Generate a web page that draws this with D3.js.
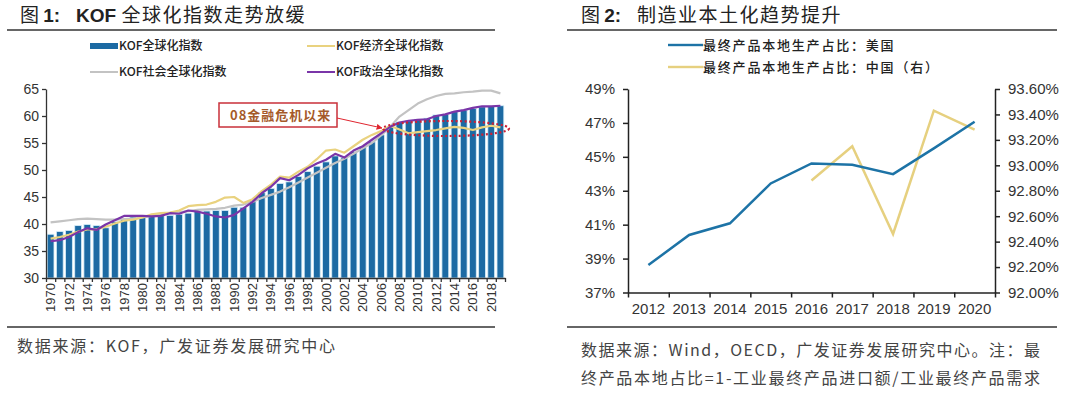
<!DOCTYPE html>
<html>
<head>
<meta charset="utf-8">
<script src="https://cdn.jsdelivr.net/npm/d3@7"></script>
<style>
  body { margin: 0; background: #fff; }
  svg text { font-family: "Liberation Sans", Arial, "Noto Sans CJK SC", sans-serif; }
  .cjk { font-family: "Noto Sans CJK SC", sans-serif; }
</style>
</head>
<body>
<svg width="1080" height="395"></svg>
<script>
// ---------- data: figure 1 ----------
var years1 = d3.range(1970, 2020);
var kofTotal = [38.1, 38.6, 38.8, 39.7, 39.9, 39.7, 39.3, 40.4, 41.0, 41.3,
                41.4, 41.5, 41.6, 41.6, 41.8, 42.0, 42.3, 42.4, 42.5, 42.5,
                43.1, 43.1, 44.3, 45.8, 46.6, 47.5, 47.8, 48.8, 49.7, 50.7,
                51.5, 52.6, 52.3, 53.4, 54.3, 55.2, 56.5, 58.0, 58.9, 59.1,
                59.4, 59.6, 60.2, 60.3, 60.8, 61.1, 61.4, 61.7, 61.8, 61.9];
var kofEcon = [37.3, 37.6, 38.0, 38.6, 39.0, 39.0, 39.5, 40.1, 40.6, 40.8,
               41.2, 41.8, 42.0, 42.1, 42.5, 43.3, 43.5, 43.6, 44.1, 44.9,
               45.0, 43.9, 44.6, 46.1, 47.3, 48.8, 48.6, 49.7, 50.6, 52.0,
               53.6, 53.8, 53.2, 54.4, 55.6, 56.5, 57.2, 58.2, 57.5, 56.8,
               57.0, 57.2, 57.4, 57.7, 58.0, 57.8, 57.4, 57.9, 58.2, 57.9];
var kofSocial = [40.3, 40.5, 40.7, 40.9, 41.0, 40.9, 40.8, 40.8, 40.9, 41.0,
                 41.2, 41.5, 41.8, 42.0, 42.2, 42.4, 42.6, 42.7, 42.8, 43.0,
                 43.4, 43.6, 44.1, 44.8, 45.4, 46.0, 46.8, 47.7, 48.6, 49.5,
                 50.4, 51.3, 52.1, 53.0, 54.0, 55.0, 56.4, 58.0, 59.9, 61.1,
                 62.3, 63.1, 63.7, 64.1, 64.2, 64.4, 64.5, 64.7, 64.7, 64.2];
var kofPolit = [36.8, 37.0, 37.6, 38.5, 39.2, 38.9, 39.9, 40.7, 41.5, 41.5,
                41.5, 41.4, 41.5, 42.0, 41.9, 42.5, 42.3, 41.9, 41.4, 41.2,
                41.7, 42.9, 44.1, 45.7, 46.9, 48.5, 48.1, 49.1, 50.3, 51.2,
                51.9, 53.0, 52.3, 53.6, 54.4, 55.6, 56.8, 58.0, 58.8, 59.1,
                59.3, 59.4, 60.0, 60.3, 60.8, 61.1, 61.5, 61.8, 61.8, 61.9];
var yTicks1 = [30, 35, 40, 45, 50, 55, 60, 65];

// ---------- data: figure 2 ----------
var years2 = ["2012", "2013", "2014", "2015", "2016", "2017", "2018", "2019", "2020"];
var usShare = [38.62, 40.39, 41.08, 43.43, 44.61, 44.53, 43.98, 45.5, 47.07];
var cnYears = ["2016", "2017", "2018", "2019", "2020"];
var cnShare = [92.88, 93.15, 92.46, 93.43, 93.28];
var yTicksL = [37, 39, 41, 43, 45, 47, 49];
var yTicksR = [92.0, 92.2, 92.4, 92.6, 92.8, 93.0, 93.2, 93.4, 93.6];

var svg = d3.select("svg");
var ink = "#333";

// ---------- headers and footers ----------
function header(x, num, rest, bold, ruleX0, ruleX1) {
  var t = svg.append("text").attr("x", x).attr("y", 22)
    .attr("font-size", 19).attr("fill", "#222").attr("class", "cjk")
    .style("white-space", "pre");
  t.append("tspan").text("图 ");
  t.append("tspan").attr("font-weight", "bold")
    .style("font-family", "Liberation Sans, Arial").text(num + ":   ");
  if (bold) t.append("tspan").attr("font-weight", "bold")
    .style("font-family", "Liberation Sans, Arial").text(bold + " ");
  t.append("tspan").attr("letter-spacing", 1.5).text(rest);
  svg.append("line").attr("x1", ruleX0).attr("x2", ruleX1)
    .attr("y1", 30).attr("y2", 30).attr("stroke", "#333").attr("stroke-width", 1.5);
  svg.append("line").attr("x1", ruleX0).attr("x2", ruleX1)
    .attr("y1", 327).attr("y2", 327).attr("stroke", "#333").attr("stroke-width", 1.5);
}
header(20, "1", "全球化指数走势放缓", "KOF", 7, 495);
header(581, "2", "制造业本土化趋势提升", null, 567, 1057);

svg.append("text").attr("class", "cjk").attr("x", 17).attr("y", 352)
  .attr("font-size", 16).attr("fill", "#444").attr("textLength", 318)
  .text("数据来源：KOF，广发证券发展研究中心");
svg.append("text").attr("class", "cjk").attr("x", 581).attr("y", 356)
  .attr("font-size", 16).attr("fill", "#444").attr("textLength", 459)
  .text("数据来源：Wind，OECD，广发证券发展研究中心。注：最");
svg.append("text").attr("class", "cjk").attr("x", 581).attr("y", 384)
  .attr("font-size", 16).attr("fill", "#444").attr("textLength", 459)
  .text("终产品本地占比=1-工业最终产品进口额/工业最终产品需求");

// ---------- figure 1 ----------
var x1 = d3.scaleBand().domain(years1).range([46, 505]).padding(0);
var y1 = d3.scaleLinear().domain([30, 65]).range([278, 89]);
var xt1 = d3.scaleLinear().domain([1970, 2020]).range([46, 505]);

var bw = x1.bandwidth() * 0.74;
svg.append("g").selectAll("rect").data(kofTotal).enter().append("rect")
  .attr("x", function(d, i) { return x1(years1[i]) + (x1.bandwidth() - bw) / 2; })
  .attr("y", function(d) { return y1(d); })
  .attr("width", bw)
  .attr("height", function(d) { return y1(30) - y1(d); })
  .attr("fill", "#1c6aa3")
  .attr("stroke", "#d6eef9").attr("stroke-width", 0.8);

function series1(vals, color) {
  var line = d3.line()
    .x(function(d, i) { return x1(years1[i]) + x1.bandwidth() / 2; })
    .y(function(d) { return y1(d); });
  svg.append("path").datum(vals).attr("d", line)
    .attr("fill", "none").attr("stroke", color).attr("stroke-width", 2.2)
    .attr("stroke-linejoin", "round");
}
series1(kofSocial, "#c3c3c3");
series1(kofEcon, "#e9d27f");
series1(kofPolit, "#7a35a8");

var ax1 = svg.append("g").attr("transform", "translate(46,0)")
  .call(d3.axisLeft(y1).tickValues(yTicks1).tickSize(4).tickSizeOuter(0));
var bx1 = svg.append("g").attr("transform", "translate(0,278)")
  .call(d3.axisBottom(xt1).ticks(50).tickFormat("").tickSize(4).tickSizeOuter(0));
var lx1 = svg.append("g").attr("transform", "translate(0,278)")
  .call(d3.axisBottom(x1).tickValues(years1.filter(function(d) { return d % 2 === 0; }))
    .tickSize(0));
lx1.select(".domain").remove();
lx1.selectAll("text")
  .attr("transform", "rotate(-90)")
  .attr("text-anchor", "end")
  .attr("x", -5).attr("y", 0).attr("dy", "0.35em");
[ax1, bx1, lx1].forEach(function(g) {
  g.selectAll("text").attr("font-size", 13).attr("fill", ink);
  g.selectAll("line, .domain").attr("stroke", ink).attr("stroke-width", 1.3);
});
ax1.selectAll("text").attr("font-size", 14);

// legend 1
var leg1 = [
  { name: "KOF全球化指数", color: "#1c6aa3", bar: true, x: 90, y: 46 },
  { name: "KOF经济全球化指数", color: "#e9d27f", x: 307, y: 46 },
  { name: "KOF社会全球化指数", color: "#c3c3c3", x: 90, y: 72 },
  { name: "KOF政治全球化指数", color: "#7a35a8", x: 307, y: 72 }
];
var lg = svg.append("g").selectAll("g").data(leg1).enter().append("g")
  .attr("transform", function(d) { return "translate(" + d.x + "," + d.y + ")"; });
lg.append("rect").attr("x", 0).attr("width", 28)
  .attr("y", function(d) { return d.bar ? -3 : -1; })
  .attr("height", function(d) { return d.bar ? 6 : 2; })
  .attr("fill", function(d) { return d.color; });
lg.append("text").attr("class", "cjk").attr("x", 29).attr("dy", "0.35em")
  .attr("font-size", 12).attr("font-weight", 500).attr("fill", "#222")
  .text(function(d) { return d.name; });

// annotation
svg.append("rect").attr("x", 219).attr("y", 103).attr("width", 118).attr("height", 24)
  .attr("fill", "#fff").attr("stroke", "#c9303a").attr("stroke-width", 1.5);
svg.append("text").attr("class", "cjk").attr("x", 230).attr("y", 115).attr("dy", "0.35em")
  .attr("font-size", 13).attr("font-weight", "bold").attr("fill", "#a55a2a")
  .attr("letter-spacing", 1).text("08金融危机以来");
svg.append("defs").append("marker").attr("id", "arr")
  .attr("viewBox", "0 0 10 10").attr("refX", 9).attr("refY", 5)
  .attr("markerWidth", 6).attr("markerHeight", 6).attr("orient", "auto")
  .append("path").attr("d", "M0,0L10,5L0,10z").attr("fill", "#e0252f");
svg.append("line").attr("x1", 337).attr("y1", 118).attr("x2", 382).attr("y2", 128)
  .attr("stroke", "#e0252f").attr("stroke-width", 1).attr("marker-end", "url(#arr)");
svg.append("ellipse").attr("cx", 446).attr("cy", 128.5).attr("rx", 63).attr("ry", 7.5)
  .attr("fill", "none").attr("stroke", "#cc2035").attr("stroke-width", 2.2)
  .attr("stroke-dasharray", "2,2.5");

// ---------- figure 2 ----------
var x2 = d3.scaleBand().domain(years2).range([628, 995]);
var yL = d3.scaleLinear().domain([37, 49]).range([292.5, 89]);
var yR = d3.scaleLinear().domain([92, 93.6]).range([292.5, 89]);

var us = d3.line()
  .x(function(d, i) { return x2(years2[i]) + x2.bandwidth() / 2; })
  .y(function(d) { return yL(d); });
var cn = d3.line()
  .x(function(d, i) { return x2(cnYears[i]) + x2.bandwidth() / 2; })
  .y(function(d) { return yR(d); });
svg.append("path").datum(cnShare).attr("d", cn).attr("fill", "none")
  .attr("stroke", "#e6d07f").attr("stroke-width", 2.5);
svg.append("path").datum(usShare).attr("d", us).attr("fill", "none")
  .attr("stroke", "#1d73a6").attr("stroke-width", 2.5);

var axL = svg.append("g").attr("transform", "translate(628,0)")
  .call(d3.axisLeft(yL).tickValues(yTicksL).tickSize(5).tickSizeOuter(0)
    .tickFormat(function(d) { return d + "%"; }));
var axR = svg.append("g").attr("transform", "translate(995,0)")
  .call(d3.axisRight(yR).tickValues(yTicksR).tickSize(5).tickSizeOuter(0)
    .tickFormat(function(d) { return d.toFixed(2) + "%"; }));
var ax2 = svg.append("g").attr("transform", "translate(0,292.5)")
  .call(d3.axisBottom(x2).tickSize(0).tickSizeOuter(0));
ax2.selectAll("text").attr("dy", "1.2em");
var tk2 = svg.append("g").attr("transform", "translate(0,292.5)")
  .call(d3.axisBottom(d3.scaleLinear().domain([0, 9]).range([628, 995]))
    .ticks(9).tickFormat("").tickSize(5).tickSizeOuter(0));
tk2.select(".domain").remove();
[axL, axR, ax2, tk2].forEach(function(g) {
  g.selectAll("text").attr("font-size", 15).attr("fill", ink);
  g.selectAll("line, .domain").attr("stroke", "#222").attr("stroke-width", 1.5);
});
axR.selectAll("text").attr("x", 13);
axL.selectAll("text").attr("x", -13);

// legend 2
var leg2 = [
  { name: "最终产品本地生产占比：美国", color: "#1d73a6", y: 45 },
  { name: "最终产品本地生产占比：中国（右）", color: "#e6d07f", y: 67 }
];
var lg2 = svg.append("g").selectAll("g").data(leg2).enter().append("g")
  .attr("transform", function(d) { return "translate(668," + d.y + ")"; });
lg2.append("rect").attr("width", 35).attr("y", -1.2).attr("height", 2.4)
  .attr("fill", function(d) { return d.color; });
lg2.append("text").attr("class", "cjk").attr("x", 35).attr("dy", "0.35em")
  .attr("font-size", 13).attr("font-weight", 500).attr("fill", "#222")
  .attr("letter-spacing", 1.8)
  .text(function(d) { return d.name; });
</script>
</body>
</html>
